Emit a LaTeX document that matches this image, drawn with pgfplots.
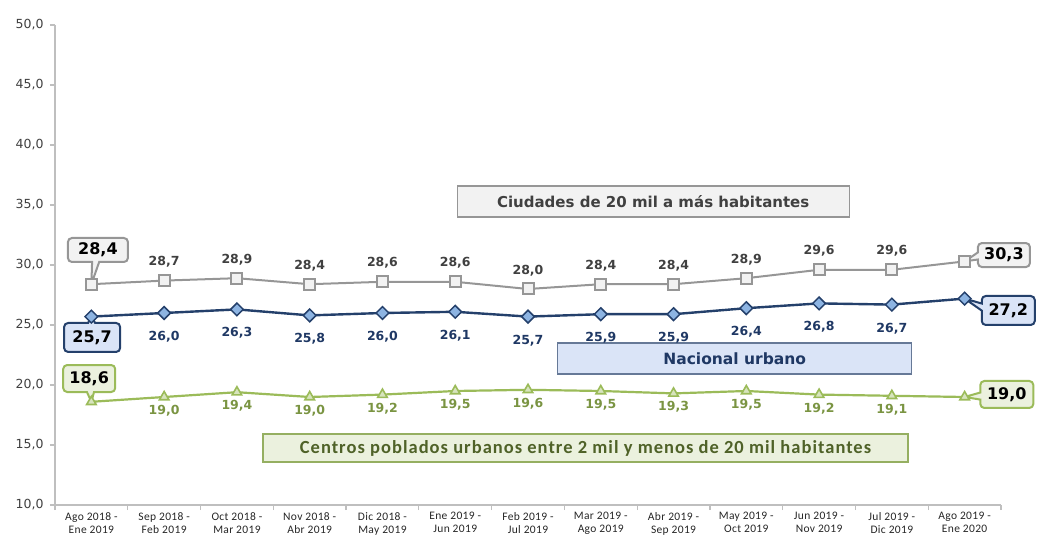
\documentclass[border=0pt]{standalone}
\usepackage{fontspec}
\setmainfont{DejaVu Sans}
\newfontfamily\calfont{Carlito}
\usepackage{pgfplots}
\usepackage{pgfplotstable}
\pgfplotsset{compat=1.18}
\usetikzlibrary{shapes.callouts}

\definecolor{axisgray}{HTML}{BFBFBF}
\definecolor{labgray}{HTML}{404040}
\definecolor{cgray}{HTML}{969696}
\definecolor{cgrayfill}{HTML}{F2F2F2}
\definecolor{cblue}{HTML}{24406B}
\definecolor{cbluemark}{HTML}{8DB4E2}
\definecolor{cbluefill}{HTML}{DAE4F7}
\definecolor{cbluetext}{HTML}{1F3864}
\definecolor{cgreen}{HTML}{9BBB59}
\definecolor{cgreenmark}{HTML}{D7E4BD}
\definecolor{cgreenfill}{HTML}{EBF1DE}
\definecolor{cgreentext}{HTML}{7A9442}
\definecolor{cgreendark}{HTML}{4F6228}

\pgfplotstableread{
x y
0 28.4
1 28.7
2 28.9
3 28.4
4 28.6
5 28.6
6 28.0
7 28.4
8 28.4
9 28.9
10 29.6
11 29.6
12 30.3
}\ciudades

\pgfplotstableread{
x y
0 25.7
1 26.0
2 26.3
3 25.8
4 26.0
5 26.1
6 25.7
7 25.9
8 25.9
9 26.4
10 26.8
11 26.7
12 27.2
}\nacional

\pgfplotstableread{
x y
0 18.6
1 19.0
2 19.4
3 19.0
4 19.2
5 19.5
6 19.6
7 19.5
8 19.3
9 19.5
10 19.2
11 19.1
12 19.0
}\centros

\begin{document}
\begin{tikzpicture}
\begin{axis}[
  at={(55bp,33bp)}, anchor=south west,
  scale only axis, width=946bp, height=480bp,
  xmin=-0.5, xmax=12.5, ymin=10, ymax=50,
  clip=false,
  axis lines*=left,
  axis line style={draw=axisgray, line width=1.5bp},
  ytick={10,15,...,50},
  yticklabel style={font=\fontsize{12.5bp}{15bp}\selectfont, text=labgray, xshift=-3bp},
  /pgf/number format/.cd, fixed, fixed zerofill, precision=1, use comma, assume math mode=true, /pgfplots/.cd,
  xtick={0,...,12},
  xticklabels={{Ago 2018 -\\Ene 2019},{Sep 2018 -\\Feb 2019},{Oct 2018 -\\Mar 2019},{Nov 2018 -\\Abr 2019},{Dic 2018 -\\May 2019},{Ene 2019 -\\Jun 2019},{Feb 2019 -\\Jul 2019},{Mar 2019 -\\Ago 2019},{Abr 2019 -\\Sep 2019},{May 2019 -\\Oct 2019},{Jun 2019 -\\Nov 2019},{Jul 2019 -\\Dic 2019},{Ago 2019 -\\Ene 2020}},
  xticklabel style={font=\calfont\addfontfeature{LetterSpace=3}\fontsize{11.5bp}{13bp}\selectfont, align=center, text=black!85, yshift=1bp},
  major x tick style={draw=none},
  minor xtick={-0.5,0.5,...,12.5},
  tick align=outside,
  major tick length=5bp, minor tick length=5bp,
  tick style={draw=axisgray, line width=1.2bp},
]
% lines
\addplot[draw=cgray, line width=2bp, mark=square*, mark size=5.5bp, mark options={fill=cgrayfill, draw=cgray, line width=2bp, solid}] table {\ciudades};
\addplot[draw=cblue, line width=2.4bp, mark=square*, mark size=4.5bp, mark options={rotate=45, fill=cbluemark, draw=cblue, line width=1.5bp, solid}] table {\nacional};
\addplot[draw=cgreen, line width=2.2bp, mark=triangle*, mark size=5.5bp, mark options={fill=cgreenmark, draw=cgreen, line width=1.6bp, solid}] table {\centros};
% labels
\addplot[draw=none, mark=none, restrict x to domain=0.5:11.5, nodes near coords,
  nodes near coords style={font=\bfseries\fontsize{12.5bp}{15bp}\selectfont, text=labgray, anchor=south, inner sep=0pt, yshift=13bp}] table {\ciudades};
\addplot[draw=none, mark=none, restrict x to domain=0.5:11.5, nodes near coords,
  nodes near coords style={font=\bfseries\fontsize{12.5bp}{15bp}\selectfont, text=cbluetext, anchor=north, inner sep=0pt, yshift=-18bp}] table {\nacional};
\addplot[draw=none, mark=none, restrict x to domain=0.5:11.5, nodes near coords,
  nodes near coords style={font=\bfseries\fontsize{12.5bp}{15bp}\selectfont, text=cgreentext, anchor=north, inner sep=0pt, yshift=-8bp}] table {\centros};
% callouts
\tikzset{cbox/.style={rectangle callout, rounded corners=4bp, line width=2bp, inner sep=0pt,
  minimum height=25bp, minimum width=55bp, font=\bfseries\fontsize{16bp}{18bp}\selectfont, text=black}}
\node[cbox, fill=cgrayfill, draw=cgray, minimum width=60bp, minimum height=24bp, callout absolute pointer={(axis cs:0,28.4)}] at (axis cs:0.09,31.25) {28,4};
\node[cbox, fill=cbluefill, draw=cblue, minimum width=56bp, minimum height=29bp, callout absolute pointer={(axis cs:0,25.7)}] at (axis cs:0.01,23.96) {25,7};
\node[cbox, fill=cgreenfill, draw=cgreen, minimum width=52bp, minimum height=27bp, callout absolute pointer={(axis cs:0,18.6)}] at (axis cs:-0.03,20.54) {18,6};
\node[cbox, fill=cgrayfill, draw=cgray, minimum width=52bp, minimum height=24bp, callout absolute pointer={(axis cs:12,30.3)}] at (axis cs:12.54,30.83) {30,3};
\node[cbox, fill=cbluefill, draw=cblue, minimum width=53bp, minimum height=29bp, callout absolute pointer={(axis cs:12,27.2)}] at (axis cs:12.60,26.21) {27,2};
\node[cbox, fill=cgreenfill, draw=cgreen, minimum width=53bp, minimum height=27bp, callout absolute pointer={(axis cs:12,19.0)}] at (axis cs:12.58,19.21) {19,0};
% series name boxes
\node[draw=cgray, fill=cgrayfill, line width=1.2bp, minimum width=392bp, minimum height=31bp, inner sep=0pt,
  font=\bfseries\fontsize{15bp}{17bp}\selectfont, text=labgray] at (axis cs:7.72,35.29) {Ciudades de 20 mil a más habitantes};
\node[draw=cblue!70, fill=cbluefill, line width=1.2bp, minimum width=354bp, minimum height=31bp, inner sep=0pt,
  font=\bfseries\fontsize{15.5bp}{17bp}\selectfont, text=cbluetext] at (axis cs:8.84,22.21) {Nacional urbano};
\node[draw=cgreen!80!gray, fill=cgreenfill, line width=1.2bp, minimum width=645bp, minimum height=28bp, inner sep=0pt,
  font=\calfont\addfontfeature{LetterSpace=5.5}\bfseries\fontsize{18.5bp}{20bp}\selectfont, text=cgreendark] at (axis cs:6.79,14.75) {Centros poblados urbanos entre 2 mil y menos de 20 mil habitantes};
\end{axis}
\pgfresetboundingbox
\path[use as bounding box] (0,0) rectangle (1037bp,538bp);
\end{tikzpicture}
\end{document}
